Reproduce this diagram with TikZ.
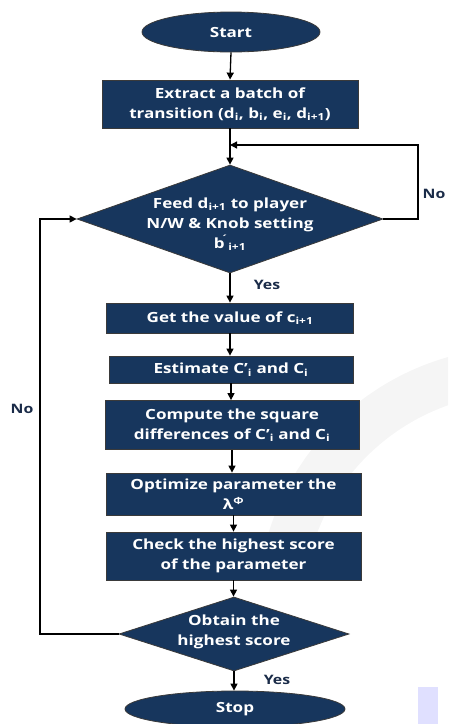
\documentclass[tikz,border=0pt]{standalone}
\usepackage{fontspec}
\setmainfont{Open Sans}[BoldFont={* Bold}, FakeStretch=1.22]
\usetikzlibrary{shapes.geometric,arrows.meta}
\definecolor{navy}{HTML}{17365D}
\definecolor{edge}{HTML}{3A3A3A}
\definecolor{labelc}{HTML}{1A2B48}
\tikzset{
  base/.style={fill=navy, draw=edge, line width=0.8pt, inner sep=0pt,
    text=white, font=\fontsize{14}{20}\selectfont\bfseries, align=center},
  procbox/.style={base, rectangle},
  terminal/.style={base, ellipse},
  decision/.style={base, diamond},
  txt/.style={text=white, font=\fontsize{14}{20}\selectfont\bfseries, align=center, inner sep=0pt},
  flow/.style={line width=1.3pt, -{Triangle[length=7pt,width=7pt]}},
  ans/.style={text=labelc, font=\fontsize{13}{14}\selectfont\bfseries, inner sep=0pt}
}
\begin{document}
\begin{tikzpicture}[x=1pt, y=-1pt]
\useasboundingbox (0,0) rectangle (448,724);
% faint background watermark
\begin{scope}
  \clip (0,0) rectangle (448,724);
  \draw[gray!8, line width=46pt] (520,610) ++(192:240) arc[start angle=192, end angle=262, radius=240];
  \fill[blue!12!white] (418,687) rectangle (438,724);
\end{scope}

% terminals and steps
\node[terminal, minimum width=178pt, minimum height=40pt] (start) at (231,32) {Start};
\node[procbox, minimum width=256pt, minimum height=48pt] (extract) at (230,104)
  {Extract a batch of\\transition (d\textsubscript{i}, b\textsubscript{i}, e\textsubscript{i}, d\textsubscript{i+1})};
\node[decision, minimum width=306pt, minimum height=108pt] (feed) at (230,219) {};
\node[txt] at ([yshift=-5pt]feed.center) {Feed d\textsubscript{i+1} to player\\N/W \& Knob setting\\b\textsuperscript{\'{}}\textsubscript{i+1}};
\node[procbox, minimum width=247pt, minimum height=30pt] (getval) at (230,318) {Get the value of c\textsubscript{i+1}};
\node[procbox, minimum width=244pt, minimum height=27pt] (estim) at (231,369.5) {Estimate C’\textsubscript{i} and C\textsubscript{i}};
\node[procbox, minimum width=254pt, minimum height=49pt] (comp) at (232,425)
  {Compute the square\\differences of C’\textsubscript{i} and C\textsubscript{i}};
\node[procbox, minimum width=255pt, minimum height=42pt] (optim) at (233.5,494)
  {Optimize parameter the\\λ\textsuperscript{Φ}};
\node[procbox, minimum width=255pt, minimum height=48pt] (check) at (233.5,556)
  {Check the highest score\\of the parameter};
\node[decision, minimum width=230pt, minimum height=74pt] (obtain) at (234,634) {};
\node[txt] at ([yshift=2pt]obtain.center) {Obtain the\\highest score};
\node[terminal, minimum width=220pt, minimum height=36pt] (stop) at (235,709) {Stop};

% join points of the feedback loops
\coordinate (joinR) at (extract.south |- 0,145);
\coordinate (cornerR) at (418,145);
\coordinate (cornerL) at (40,219);

% main flow
\draw[flow] (start.south) -- (extract.north);
\draw[flow] (extract.south) -- (feed.north);
\draw[flow] (feed.south) -- (feed.south |- getval.north);
\draw[flow] (getval.south) -- (getval.south |- estim.north);
\draw[flow] (estim.south) -- (estim.south |- comp.north);
\draw[flow] (comp.south) -- (comp.south |- optim.north);
\draw[flow] (optim.south) -- (optim.south |- check.north);
\draw[flow] (check.south) -- (check.south |- obtain.north);
\draw[flow] (obtain.south) -- (obtain.south |- stop.north);

% feedback loops
\draw[flow] (feed.east) -| (cornerR) -- (joinR);
\draw[flow] (obtain.west) -| (cornerL) -- (feed.west);

% branch labels
\node[ans] at (267,285) {Yes};
\node[ans] at (277,680) {Yes};
\node[ans] at (434,194) {No};
\node[ans] at (22,409) {No};
\end{tikzpicture}
\end{document}
